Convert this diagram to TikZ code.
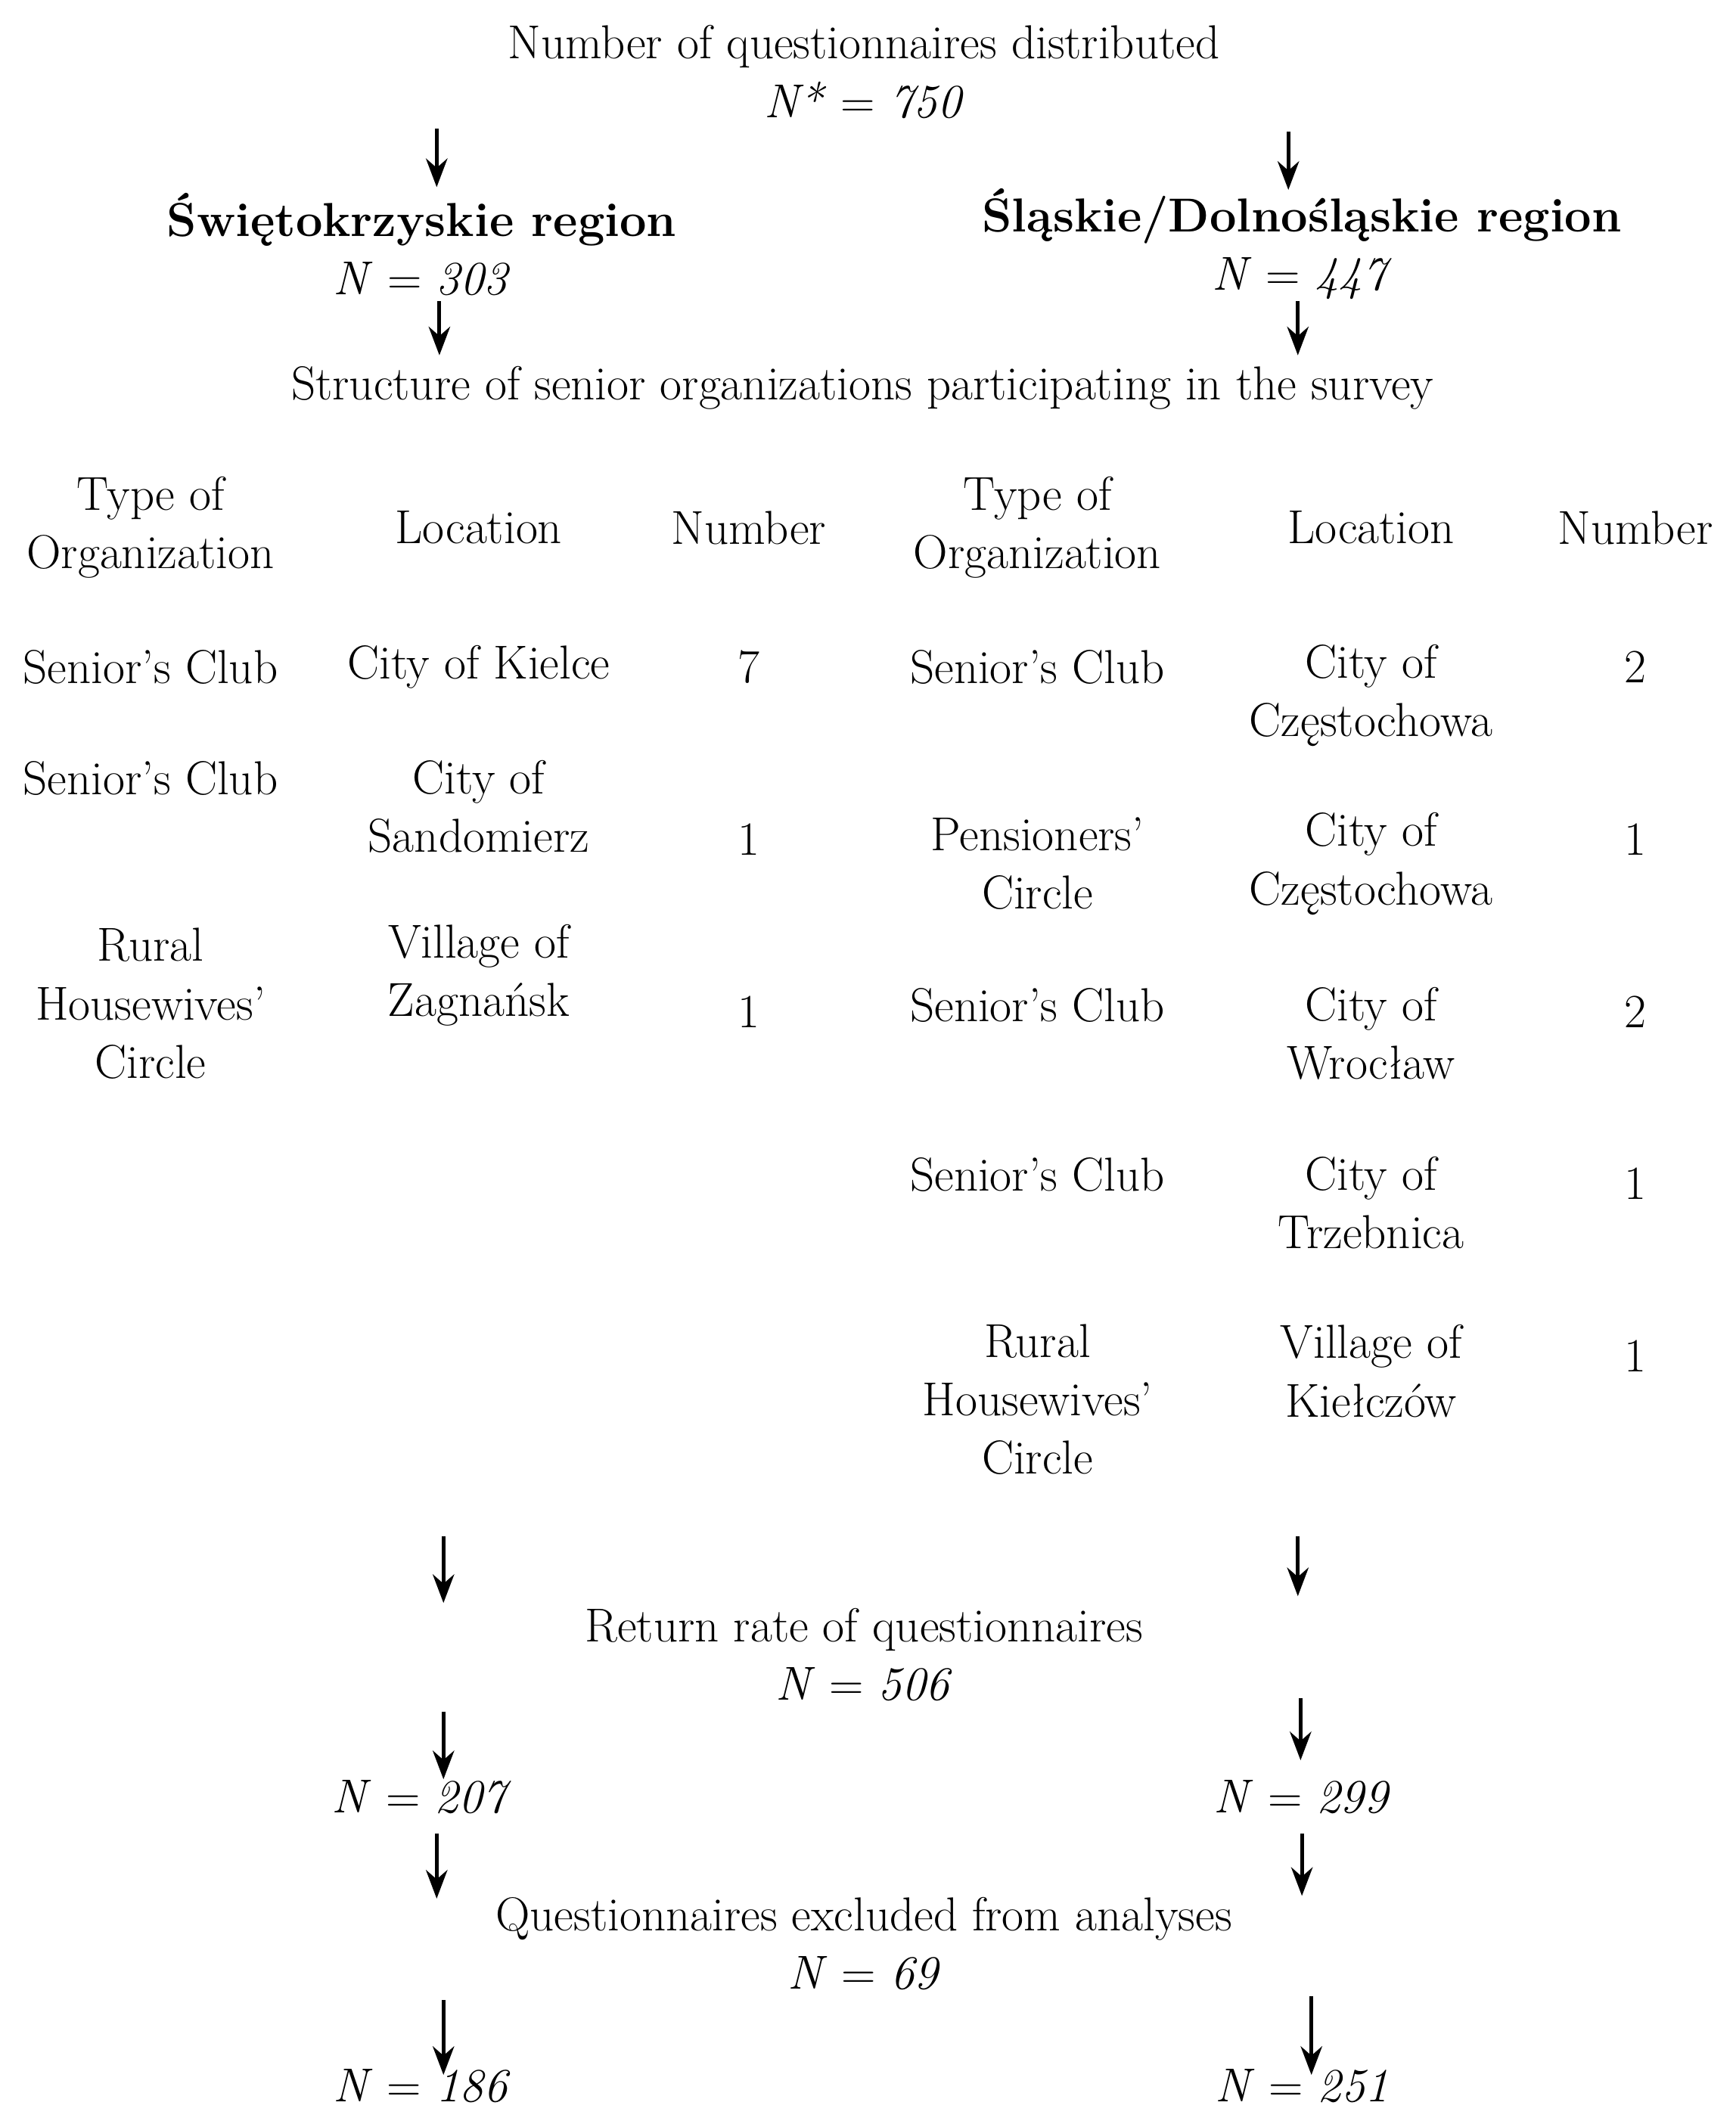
\documentclass[tikz,border=0pt]{standalone}
\usetikzlibrary{arrows.meta}
\begin{document}
\begin{tikzpicture}[x=0.02cm,y=-0.02cm,
  t/.style={align=center,font=\fontsize{20}{24.5}\selectfont,inner sep=0pt},
  ar/.style={-{Stealth[length=12pt,width=9pt]},line width=1.6pt}]
\useasboundingbox[fill=white] (0,0) rectangle (1280,1564);
\node[t] (title) at (637,53) {Number of questionnaires distributed\\\textit{N*} = \textit{750}};
\node[t] (sw) at (311,180) {\textbf{Świętokrzyskie region}\\\textit{N} = \textit{303}};
\node[t] (sl) at (960,180) {\textbf{Śląskie/Dolnośląskie region}\\\textit{N} = \textit{447}};
\node[t] (str) at (636,286) {Structure of senior organizations participating in the survey};
\node[t] (h1) at (111,389) {Type of\\Organization};
\node[t] (h2) at (353,389) {Location};
\node[t] (h3) at (552,389) {Number};
\node[t] (h4) at (765,389) {Type of\\Organization};
\node[t] (h5) at (1011,389) {Location};
\node[t] (h6) at (1206,389) {Number};
\node[t] (a1) at (111,492) {Senior’s Club};
\node[t] (b1) at (353,492) {City of Kielce};
\node[t] (c1) at (552,492) {7};
\node[t] (a2) at (111,574) {Senior’s Club};
\node[t] (b2) at (353,595) {City of\\Sandomierz};
\node[t] (c2) at (552,619) {1};
\node[t] (a3) at (111,740) {Rural\\Housewives’\\Circle};
\node[t] (b3) at (353,719) {Village of\\Zagnańsk};
\node[t] (c3) at (552,746) {1};
\node[t] (d1) at (765,492) {Senior’s Club};
\node[t] (e1) at (1011,513) {City of\\Częstochowa};
\node[t] (f1) at (1206,492) {2};
\node[t] (d2) at (765,637) {Pensioners’\\Circle};
\node[t] (e2) at (1011,637) {City of\\Częstochowa};
\node[t] (f2) at (1206,619) {1};
\node[t] (d3) at (765,741) {Senior’s Club};
\node[t] (e3) at (1011,762) {City of\\Wrocław};
\node[t] (f3) at (1206,746) {2};
\node[t] (d4) at (765,866) {Senior’s Club};
\node[t] (e4) at (1011,887) {City of\\Trzebnica};
\node[t] (f4) at (1206,873) {1};
\node[t] (d5) at (765,1032) {Rural\\Housewives’\\Circle};
\node[t] (e5) at (1011,1011) {Village of\\Kiełczów};
\node[t] (f5) at (1206,1000) {1};
\node[t] (ret) at (637,1220) {Return rate of questionnaires\\\textit{N} = \textit{506}};
\node[t] (n207) at (311,1325) {\textit{N} = \textit{207}};
\node[t] (n299) at (960,1325) {\textit{N} = \textit{299}};
\node[t] (exc) at (637,1433) {Questionnaires excluded from analyses\\\textit{N} = \textit{69}};
\node[t] (n186) at (311,1538) {\textit{N} = \textit{186}};
\node[t] (n251) at (960,1538) {\textit{N} = \textit{251}};
\foreach \n/\x/\ya/\yb in {p1/322/95/138, p2/950/97/140, p3/324/222/262, p4/957/222/262,
  p5/327/1133/1182, p6/957/1133/1177, p7/327/1262/1312, p8/959/1252/1298,
  p9/322/1352/1400, p10/960/1352/1398, p11/327/1475/1530, p12/967/1472/1530}{
  \coordinate (\n s) at (\x,\ya); \coordinate (\n e) at (\x,\yb);
  \draw[ar] (\n s) -- (\n e);}
\end{tikzpicture}
\end{document}
